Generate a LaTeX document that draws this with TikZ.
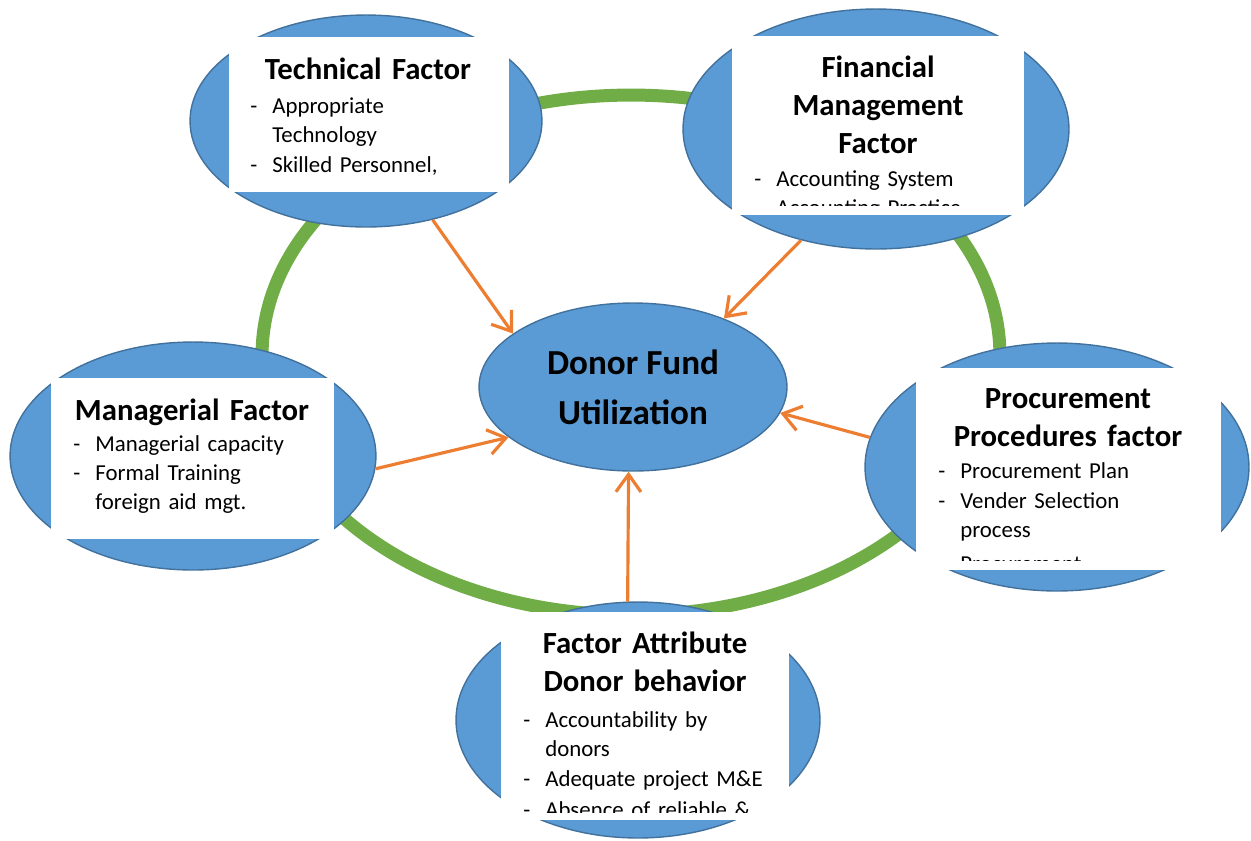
\documentclass[tikz,border=0pt]{standalone}
\usepackage{fontspec}
\setmainfont{Carlito}
\usepackage{tikz}
\usetikzlibrary{shapes, positioning, fit, arrows.meta}
\definecolor{fillblue}{HTML}{5B9BD5}
\definecolor{lineblue}{HTML}{41719C}
\definecolor{ringgreen}{HTML}{70AD47}
\definecolor{arroworange}{HTML}{ED7D31}
\newcommand{\itemdash}{\leavevmode\llap{\makebox[0.44cm][l]{-}}}

\begin{document}
\begin{tikzpicture}[x=0.02cm, y=-0.02cm]
	\tikzstyle{factor}=[ellipse, draw=lineblue, line width=0.8pt, fill=fillblue, inner sep=0pt]
	\tikzstyle{whitebox}=[rectangle, fill=white, inner sep=0pt]
	\tikzstyle{titletxt}=[anchor=base, align=center, inner sep=0pt, text width=5.6cm, font=\fontsize{17.5}{21.9}\selectfont\bfseries]
	\tikzstyle{listtxt}=[anchor=base west, align=left, inner sep=0pt, text width=5cm, font=\fontsize{13}{16.7}\selectfont]
	\tikzstyle{ring}=[draw=ringgreen, line width=0.26cm]
	\tikzstyle{link}=[draw=arroworange, line width=1.8pt, -{Straight Barb[length=3.5mm, width=5mm]}]

	\useasboundingbox (0,0) rectangle (1251,840);

	% green ring behind the factors
	\draw[ring] (631,355) ellipse [x radius=7.38cm, y radius=5.2cm];

	% outer factors
	\node[factor, minimum width=7.04cm, minimum height=4.24cm] (tech) at (366,121) {};
	\node[factor, minimum width=7.72cm, minimum height=4.8cm] (fin) at (876,129) {};
	\node[factor, minimum width=7.32cm, minimum height=4.56cm] (man) at (193,456) {};
	\node[factor, minimum width=7.68cm, minimum height=4.96cm] (proc) at (1057,467) {};
	\node[factor, minimum width=7.28cm, minimum height=4.72cm] (attr) at (638,720) {};

	\node[whitebox, fit={(229,37) (509,192)}] (techbox) {};
	\node[whitebox, fit={(732,36) (1024,215)}] (finbox) {};
	\node[whitebox, fit={(51,378) (334,539)}] (manbox) {};
	\node[whitebox, fit={(916,368) (1221,570)}] (procbox) {};
	\node[whitebox, fit={(501,612) (789,820)}] (attrbox) {};

	% technical
	\node[titletxt] (techtitle) at (368,79) {Technical Factor};
	\node[listtxt] (techlist) at (272,113) {\itemdash Appropriate\\Technology\\[0.6pt]\itemdash Skilled Personnel,};

	% financial
	\begin{scope}
		\clip (finbox.north west) rectangle (1024,205);
		\node[titletxt] (fintitle) at (878,77) {Financial\\Management\\Factor};
		\node[listtxt] (finlist) at (776,186) {\itemdash Accounting System\\\itemdash Accounting Practice};
	\end{scope}

	% managerial
	\begin{scope}
		\clip (manbox.north west) rectangle (334,531);
		\node[titletxt] (mantitle) at (192,420) {Managerial Factor};
		\node[listtxt] (manlist) at (95,451) {\itemdash Managerial capacity\\\itemdash Formal Training\\foreign aid mgt.\\[6pt]\itemdash Experience};
	\end{scope}

	% procurement
	\begin{scope}
		\clip (procbox.north west) rectangle (1221,560);
		\node[titletxt] (proctitle) at (1068,408) {Procurement\\Procedures factor};
		\node[listtxt] (proclist) at (960,478) {\itemdash Procurement Plan\\[0.6pt]\itemdash Vender Selection\\process\\[2.5pt]\itemdash Procurement};
	\end{scope}

	% donor behaviour
	\begin{scope}
		\clip (attrbox.north west) rectangle (789,812);
		\node[titletxt] (attrtitle) at (645,653) {Factor Attribute\\Donor behavior};
		\node[listtxt] (attrlist) at (545,727) {\itemdash Accountability by\\donors\\[0.6pt]\itemdash Adequate project M\&E\\[0.6pt]\itemdash Absence of reliable \&};
	\end{scope}

	% centre
	\node[factor, minimum width=6.16cm, minimum height=3.36cm, align=center, font=\fontsize{20}{28.5}\selectfont\bfseries] (dfu) at (633,387) {Donor Fund\\Utilization};

	\draw[link] (tech.-56) -- (dfu.156);
	\draw[link] (fin.-124) -- (dfu.37);
	\draw[link] (man.-4) -- (dfu.202);
	\draw[link] (proc.171) -- (dfu.-10);
	\draw[link] (attr.95) -- (dfu.-93);
\end{tikzpicture}
\end{document}
